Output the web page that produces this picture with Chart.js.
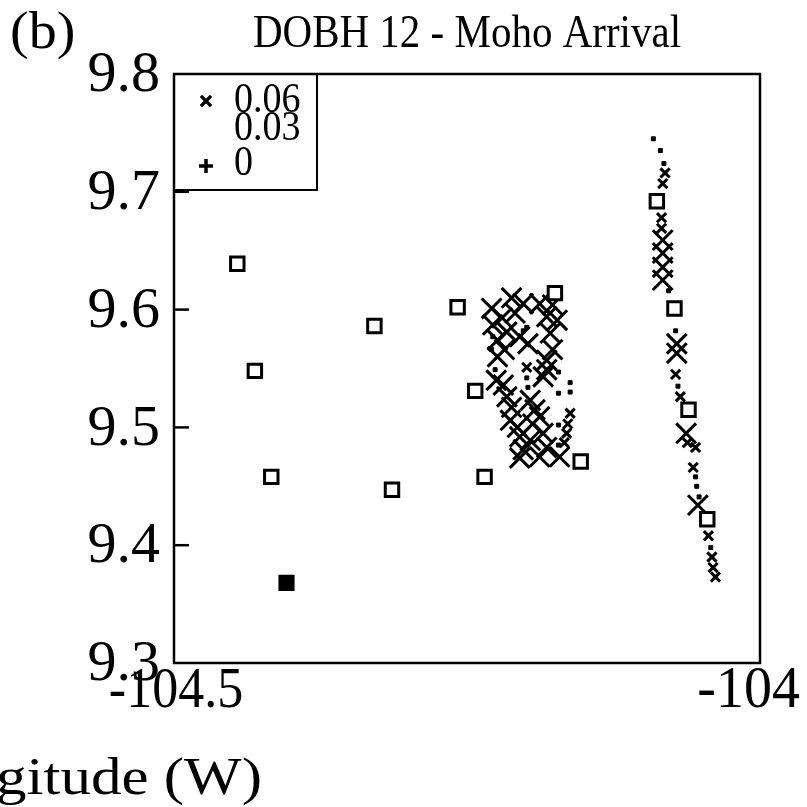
<!DOCTYPE html>
<html lang="en">
<head>
<meta charset="UTF-8">
<title>DOBH 12 - Moho Arrival</title>
<script src="https://cdn.jsdelivr.net/npm/chart.js@4"></script>
<style>
  html, body { margin: 0; padding: 0; background: #fff; }
</style>
</head>
<body>
<canvas id="myChart" width="807" height="807"></canvas>
<script>
// axis ranges and tick labels
const lonMin = -104.5, lonMax = -104;
const latMin = 9.3, latMax = 9.8;
const lonTickLabels = ['-104.5', '-104'];

// OBS stations (open squares) and DOBH 12 itself (filled)
const stationLon = [-104.446, -104.431, -104.417, -104.329, -104.314, -104.258, -104.243,
                    -104.235, -104.175, -104.153, -104.088, -104.073, -104.061, -104.045];
const stationLat = [9.639, 9.548, 9.458, 9.586, 9.447, 9.602, 9.531,
                    9.458, 9.614, 9.471, 9.692, 9.601, 9.515, 9.422];
const dobhLon = [-104.404];
const dobhLat = [9.368];

// shots with large residuals
const bigLon = [-104.229, -104.212, -104.202, -104.188, -104.177, -104.220, -104.228, -104.209,
                -104.182, -104.173, -104.216, -104.224, -104.198, -104.205, -104.179, -104.177,
                -104.182, -104.224, -104.218, -104.225, -104.219, -104.185, -104.182, -104.216,
                -104.212, -104.196, -104.192, -104.213, -104.207, -104.194, -104.188, -104.205,
                -104.196, -104.185, -104.202, -104.188, -104.182, -104.205, -104.171,
                -104.083, -104.083, -104.083, -104.083, -104.071, -104.071, -104.063, -104.053];
const bigLat = [9.601, 9.610, 9.605, 9.605, 9.604, 9.593, 9.587, 9.597,
                9.594, 9.591, 9.581, 9.574, 9.571, 9.577, 9.580, 9.566,
                9.557, 9.560, 9.566, 9.540, 9.536, 9.543, 9.549, 9.526,
                9.517, 9.523, 9.515, 9.506, 9.500, 9.503, 9.509, 9.492,
                9.489, 9.495, 9.481, 9.475, 9.483, 9.474, 9.475,
                9.659, 9.648, 9.636, 9.625, 9.571, 9.563, 9.495, 9.434];

// shots with medium residuals
const smallLon = [-104.162, -104.164, -104.165, -104.167, -104.199,
                  -104.081, -104.083, -104.084, -104.084, -104.072, -104.068, -104.062,
                  -104.055, -104.057, -104.044, -104.041, -104.040, -104.038];
const smallLat = [9.512, 9.503, 9.495, 9.487, 9.551,
                  9.716, 9.707, 9.678, 9.669, 9.545, 9.526, 9.487,
                  9.483, 9.466, 9.408, 9.390, 9.381, 9.373];

// shots with small residuals
const dotLon = [-104.199, -104.199, -104.229, -104.226, -104.172, -104.172, -104.162, -104.162,
                -104.172, -104.172, -104.228, -104.198, -104.202,
                -104.091, -104.085, -104.082, -104.078, -104.072, -104.070, -104.055, -104.054,
                -104.052, -104.042];
const dotLat = [9.585, 9.542, 9.566, 9.549, 9.547, 9.529, 9.538, 9.530,
                9.502, 9.485, 9.577, 9.534, 9.582,
                9.745, 9.735, 9.724, 9.616, 9.582, 9.535, 9.458, 9.450,
                9.441, 9.398];

const legendLabels = ['0.06', '0.03', '0'];

const pts = (xs, ys) => xs.map((v, i) => ({ x: v, y: ys[i] }));
const SERIF = "'Liberation Serif', 'Times New Roman', serif";

const data = {
  datasets: [
    { label: 'stations', data: pts(stationLon, stationLat), pointStyle: 'rect', pointRadius: 9.5,
      borderColor: '#000', backgroundColor: '#fff', borderWidth: 3 },
    { label: 'DOBH 12', data: pts(dobhLon, dobhLat), pointStyle: 'rect', pointRadius: 10,
      borderColor: '#000', backgroundColor: '#000', borderWidth: 2 },
    { label: legendLabels[0], data: pts(bigLon, bigLat), pointStyle: 'crossRot', pointRadius: 14,
      borderColor: '#000', borderWidth: 3, legendRadius: 7 },
    { label: 'mid', data: pts(smallLon, smallLat), pointStyle: 'crossRot', pointRadius: 6.5,
      borderColor: '#000', borderWidth: 3 },
    { label: legendLabels[1], data: pts(dotLon, dotLat), pointStyle: 'rect', pointRadius: 2.8,
      borderColor: '#000', backgroundColor: '#000', borderWidth: 1, legendRadius: 0 },
    { label: legendLabels[2], data: [], pointStyle: 'cross', pointRadius: 8,
      borderColor: '#000', borderWidth: 3, legendRadius: 7 }
  ]
};

// text is a little taller than wide in this figure
function text(ctx, str, x, y, font, align, base, sy) {
  ctx.save();
  ctx.font = font;
  ctx.textAlign = align;
  ctx.textBaseline = base;
  ctx.translate(x, y);
  ctx.scale(1, sy || 1);
  ctx.fillText(str, 0, 0);
  ctx.restore();
}

// frame, inward ticks, axis labels, legend box and texts
const decorations = {
  id: 'decorations',
  afterDraw(chart) {
    const { ctx, chartArea: a, scales: { x, y } } = chart;
    ctx.save();
    ctx.strokeStyle = '#000';
    ctx.fillStyle = '#000';
    ctx.lineWidth = 2.5;
    ctx.strokeRect(a.left, a.top, a.right - a.left, a.bottom - a.top);

    y.ticks.forEach(t => {
      const py = y.getPixelForValue(t.value);
      text(ctx, t.value.toFixed(1), a.left - 14, py + 2, '58px ' + SERIF, 'right', 'middle', 1.0);
      if (py <= a.top + 1 || py >= a.bottom - 1) return;
      ctx.beginPath();
      ctx.moveTo(a.left, py);
      ctx.lineTo(a.left + 15, py);
      ctx.stroke();
    });

    text(ctx, lonTickLabels[0], x.getPixelForValue(lonMin) + 2, a.bottom + 44, '52px ' + SERIF, 'center', 'alphabetic', 1.1);
    text(ctx, lonTickLabels[1], x.getPixelForValue(lonMax) + 40, a.bottom + 44, '56px ' + SERIF, 'right', 'alphabetic', 1.05);

    // legend
    const bx = a.left, by = a.top, bw = 143, bh = 116;
    ctx.lineWidth = 2;
    ctx.strokeRect(bx, by, bw, bh);
    const rows = [25, 53, 88];
    let row = 0;
    chart.data.datasets.forEach(ds => {
      if (!legendLabels.includes(ds.label)) return;
      const cy = by + rows[row++];
      if (ds.legendRadius > 0) {
        ctx.lineWidth = ds.borderWidth;
        Chart.helpers.drawPoint(ctx, { pointStyle: ds.pointStyle, radius: ds.legendRadius,
          borderWidth: ds.borderWidth }, bx + 32, cy + (row === 3 ? 4 : 2));
        ctx.stroke();
      }
      text(ctx, ds.label, bx + 60, cy + 2, '38px ' + SERIF, 'left', 'middle', 1.1);
    });

    text(ctx, 'DOBH 12 - Moho Arrival', 467, 47, '41px ' + SERIF, 'center', 'alphabetic', 1.12);
    text(ctx, '(b)', 10, 48, '56px ' + SERIF, 'left', 'alphabetic', 0.95);
    text(ctx, 'Longitude (W)', 262, 794, '61px ' + SERIF, 'right', 'alphabetic', 0.88);
    ctx.restore();
  }
};

const config = {
  type: 'scatter',
  data: data,
  options: {
    responsive: false,
    animation: false,
    layout: { padding: { top: 74, right: 47, bottom: 0, left: 0 } },
    plugins: { legend: { display: false }, tooltip: { enabled: false } },
    scales: {
      x: {
        type: 'linear', min: lonMin, max: lonMax,
        ticks: { display: false },
        grid: { display: false, drawTicks: false },
        border: { display: false },
        afterFit(s) { s.height = 144; }
      },
      y: {
        type: 'linear', min: latMin, max: latMax,
        ticks: { display: false, stepSize: 0.1 },
        grid: { display: false, drawTicks: false },
        border: { display: false },
        afterFit(s) { s.width = 174; }
      }
    }
  },
  plugins: [decorations]
};

const myChart = new Chart(document.getElementById('myChart'), config);
</script>
</body>
</html>
